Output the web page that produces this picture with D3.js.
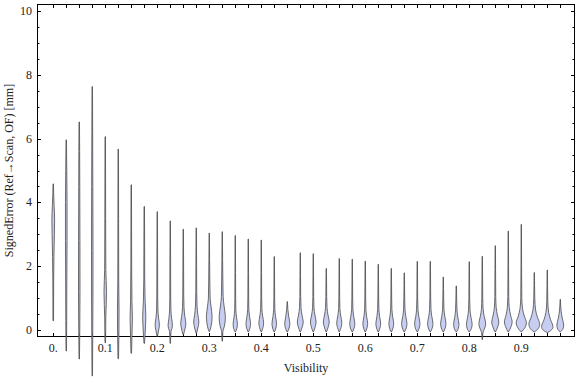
<!DOCTYPE html>
<html>
<head>
<meta charset="utf-8">
<script src="https://cdn.jsdelivr.net/npm/d3@7"></script>
<style>
  html, body { margin: 0; padding: 0; background: #fff; }
  #chart { width: 576px; height: 377px; }
  text { font-family: "Liberation Serif", "Times New Roman", "DejaVu Serif", serif; }
</style>
</head>
<body>
<div id="chart"></div>
<script>
// visibility bins (centre of each violin)
var visibility = [0, 0.025, 0.05, 0.075, 0.1, 0.125, 0.15, 0.175, 0.2, 0.225,
  0.25, 0.275, 0.3, 0.325, 0.35, 0.375, 0.4, 0.425, 0.45, 0.475,
  0.5, 0.525, 0.55, 0.575, 0.6, 0.625, 0.65, 0.675, 0.7, 0.725,
  0.75, 0.775, 0.8, 0.825, 0.85, 0.875, 0.9, 0.925, 0.95, 0.975];

// density profile of each violin: [signed error mm, relative density]
var profiles = [
  [[0.29,.05],[1.5,.07],[2.3,.12],[3.0,.2],[3.45,.24],[3.9,.15],[4.3,.07],[4.58,.04]],
  [[-0.66,.04],[0.3,.08],[1.5,.1],[2.8,.14],[4.0,.14],[5.0,.09],[5.96,.04]],
  [[-0.91,.04],[0,.09],[1.2,.13],[2.8,.12],[4.5,.09],[5.6,.07],[6.52,.04]],
  [[-1.44,.04],[-0.3,.08],[1.0,.12],[2.5,.13],[4.5,.1],[6.2,.07],[7.63,.04]],
  [[-0.4,.05],[0.4,.1],[1.2,.22],[1.9,.1],[3.5,.07],[6.06,.04]],
  [[-0.9,.05],[0,.12],[0.6,.14],[1.5,.08],[3.5,.06],[5.67,.04]],
  [[-0.73,.05],[0,.15],[0.35,.2],[0.9,.12],[2,.07],[4.55,.04]],
  [[-0.42,.05],[0.1,.22],[0.4,.28],[0.9,.15],[1.6,.08],[3.87,.04]],
  [[-0.2,.04],[0.03,.28],[0.15,.38],[0.35,.25],[0.6,.12],[1.0,.08],[2.2,.06],[3.71,.03]],
  [[-0.42,.04],[-0.05,.12],[0.05,.3],[0.15,.38],[0.35,.25],[0.6,.12],[1.0,.08],[2.2,.06],[3.42,.03]],
  [[-0.15,.04],[0.06,.33],[0.2,.45],[0.42,.28],[0.7,.13],[1.1,.08],[2.0,.06],[3.16,.03]],
  [[-0.1,.04],[0.1,.33],[0.25,.45],[0.48,.28],[0.75,.14],[1.2,.08],[2.0,.06],[3.2,.03]],
  [[-0.05,.04],[0.1,.3],[0.42,.5],[0.75,.3],[1.0,.15],[1.5,.1],[2.2,.06],[3.04,.03]],
  [[-0.35,.04],[-0.05,.1],[0.1,.35],[0.4,.55],[0.75,.32],[1.05,.15],[1.6,.1],[2.2,.06],[3.08,.03]],
  [[-0.06,.04],[0.04,.27],[0.18,.38],[0.4,.22],[0.63,.1],[0.98,.07],[1.8,.05],[2.96,.03]],
  [[-0.06,.04],[0.06,.29],[0.2,.4],[0.42,.23],[0.65,.1],[1.0,.07],[1.8,.05],[2.85,.03]],
  [[-0.06,.04],[0.08,.3],[0.22,.42],[0.44,.24],[0.67,.11],[1.02,.07],[1.8,.05],[2.82,.03]],
  [[-0.06,.04],[0.06,.29],[0.2,.4],[0.42,.23],[0.65,.1],[1.0,.07],[1.6,.05],[2.3,.03]],
  [[-0.06,.04],[0.06,.32],[0.2,.45],[0.42,.26],[0.65,.1],[0.89,.03]],
  [[-0.06,.04],[0.11,.37],[0.25,.52],[0.47,.3],[0.7,.13],[1.05,.07],[1.7,.05],[2.42,.03]],
  [[-0.06,.04],[0.11,.36],[0.25,.5],[0.47,.29],[0.7,.12],[1.05,.07],[1.7,.05],[2.39,.03]],
  [[-0.06,.04],[0.11,.37],[0.25,.52],[0.47,.3],[0.7,.13],[1.05,.07],[1.5,.05],[1.93,.03]],
  [[-0.06,.04],[0.08,.32],[0.22,.45],[0.44,.26],[0.67,.11],[1.02,.07],[1.6,.05],[2.24,.03]],
  [[-0.06,.04],[0.06,.32],[0.2,.45],[0.42,.26],[0.65,.11],[1.0,.07],[1.6,.05],[2.22,.03]],
  [[-0.06,.04],[0.06,.3],[0.2,.42],[0.42,.24],[0.65,.11],[1.0,.07],[1.6,.05],[2.16,.03]],
  [[-0.06,.04],[0.06,.3],[0.2,.42],[0.42,.24],[0.65,.11],[1.0,.07],[1.5,.05],[2.06,.03]],
  [[-0.06,.04],[0.06,.3],[0.2,.42],[0.42,.24],[0.65,.11],[1.0,.07],[1.5,.05],[1.93,.03]],
  [[-0.06,.04],[0.06,.34],[0.2,.47],[0.42,.27],[0.65,.12],[1.0,.07],[1.4,.05],[1.79,.03]],
  [[-0.06,.04],[0.06,.34],[0.2,.47],[0.42,.27],[0.65,.12],[1.0,.07],[1.6,.05],[2.15,.03]],
  [[-0.06,.04],[0.06,.34],[0.2,.47],[0.42,.27],[0.65,.12],[1.0,.07],[1.6,.05],[2.15,.03]],
  [[-0.06,.04],[0.06,.34],[0.2,.47],[0.42,.27],[0.65,.12],[1.0,.07],[1.3,.05],[1.66,.03]],
  [[-0.06,.04],[0.04,.34],[0.18,.47],[0.4,.27],[0.63,.12],[0.95,.07],[1.38,.03]],
  [[-0.06,.04],[0.04,.36],[0.18,.5],[0.4,.29],[0.63,.13],[0.98,.07],[1.6,.05],[2.14,.03]],
  [[-0.3,.04],[-0.08,.12],[0.06,.43],[0.2,.6],[0.42,.35],[0.65,.15],[1.0,.08],[1.7,.05],[2.31,.03]],
  [[-0.06,.04],[0.11,.45],[0.25,.62],[0.47,.36],[0.7,.16],[1.05,.08],[1.9,.05],[2.64,.03]],
  [[-0.06,.04],[0.11,.49],[0.25,.68],[0.47,.39],[0.7,.17],[1.05,.08],[2.0,.05],[3.1,.03]],
  [[-0.06,.04],[0.08,.65],[0.22,.9],[0.44,.52],[0.67,.22],[1.02,.09],[2.0,.05],[3.31,.03]],
  [[-0.06,.04],[0.04,.68],[0.18,.95],[0.4,.55],[0.63,.23],[0.98,.09],[1.4,.05],[1.8,.03]],
  [[-0.08,.04],[-0.02,.6],[0.1,1],[0.32,.58],[0.55,.24],[0.9,.09],[1.4,.05],[1.88,.03]],
  [[-0.06,.04],[0.02,.43],[0.15,.6],[0.37,.35],[0.6,.14],[0.96,.03]]
];

// tick labels
var xTickValues = [0, 0.1, 0.2, 0.3, 0.4, 0.5, 0.6, 0.7, 0.8, 0.9];
var xTickLabels = ["0.", "0.1", "0.2", "0.3", "0.4", "0.5", "0.6", "0.7", "0.8", "0.9"];
var yTickValues = [0, 2, 4, 6, 8, 10];
var yMinorTicks = [0, 0.5, 1, 1.5, 2, 2.5, 3, 3.5, 4, 4.5, 5, 5.5, 6, 6.5, 7, 7.5, 8, 8.5, 9, 9.5, 10];

var W = 576, H = 377;
var frame = {left: 37, right: 575, top: 4, bottom: 337};

var svg = d3.select("#chart").append("svg")
  .attr("width", W)
  .attr("height", H);

// scales
var x = d3.scaleLinear().domain([-0.03125, 1.0033]).range([frame.left, frame.right]);
var y = d3.scaleLinear().domain([-0.22, 10.22]).range([frame.bottom, frame.top]);
var halfW = d3.scaleLinear().domain([0, 1]).range([0, 5.7]);

var textColor = "#222";

// frame
svg.append("rect")
  .attr("x", frame.left + 0.5)
  .attr("y", frame.top + 0.5)
  .attr("width", frame.right - frame.left - 1)
  .attr("height", frame.bottom - frame.top - 1)
  .attr("fill", "none")
  .attr("stroke", "#000")
  .attr("stroke-width", 1);

// bottom and top ticks at each bin
var ticksG = svg.append("g").attr("stroke", "#000").attr("stroke-width", 1);
ticksG.selectAll(".xb").data(visibility).join("line")
  .attr("x1", d => Math.round(x(d)) + 0.5).attr("x2", d => Math.round(x(d)) + 0.5)
  .attr("y1", frame.bottom).attr("y2", frame.bottom - 4);
ticksG.selectAll(".xt").data(visibility).join("line")
  .attr("class", "xt")
  .attr("x1", d => Math.round(x(d)) + 0.5).attr("x2", d => Math.round(x(d)) + 0.5)
  .attr("y1", frame.top).attr("y2", frame.top + 4);

// left and right ticks
yMinorTicks.forEach(function(v){
  var major = yTickValues.indexOf(v) >= 0;
  var len = major ? 4 : 2.5;
  var yy = Math.round(y(v)) + 0.5;
  ticksG.append("line").attr("x1", frame.left).attr("x2", frame.left + len).attr("y1", yy).attr("y2", yy);
  ticksG.append("line").attr("x1", frame.right).attr("x2", frame.right - len).attr("y1", yy).attr("y2", yy);
});

// tick labels
svg.append("g").selectAll("text").data(xTickValues).join("text")
  .attr("x", d => x(d))
  .attr("y", 352)
  .attr("text-anchor", "middle")
  .attr("font-size", 12)
  .attr("fill", textColor)
  .text((d, i) => xTickLabels[i]);

svg.append("g").selectAll("text").data(yTickValues).join("text")
  .attr("x", 32)
  .attr("y", d => y(d) + 4)
  .attr("text-anchor", "end")
  .attr("font-size", 12)
  .attr("fill", textColor)
  .text(d => d);

// axis titles
svg.append("text")
  .attr("x", 306)
  .attr("y", 372)
  .attr("text-anchor", "middle")
  .attr("font-size", 12)
  .attr("fill", textColor)
  .text("Visibility");

svg.append("text")
  .attr("transform", "translate(12.5," + ((frame.top + frame.bottom) / 2) + ") rotate(-90)")
  .attr("text-anchor", "middle")
  .attr("font-size", 12)
  .attr("fill", textColor)
  .text("SignedError (Ref\u2192Scan, OF) [mm]");

// violins
var area = d3.area()
  .curve(d3.curveMonotoneY)
  .y(d => y(d[0]))
  .x0(d => -halfW(d[1]))
  .x1(d => halfW(d[1]));

svg.append("g").selectAll("path").data(profiles).join("path")
  .attr("transform", (d, i) => "translate(" + x(visibility[i]) + ",0)")
  .attr("d", d => area(d))
  .attr("fill", "#c8cef2")
  .attr("stroke", "#4a4a4a")
  .attr("stroke-width", 0.8);
</script>
</body>
</html>
